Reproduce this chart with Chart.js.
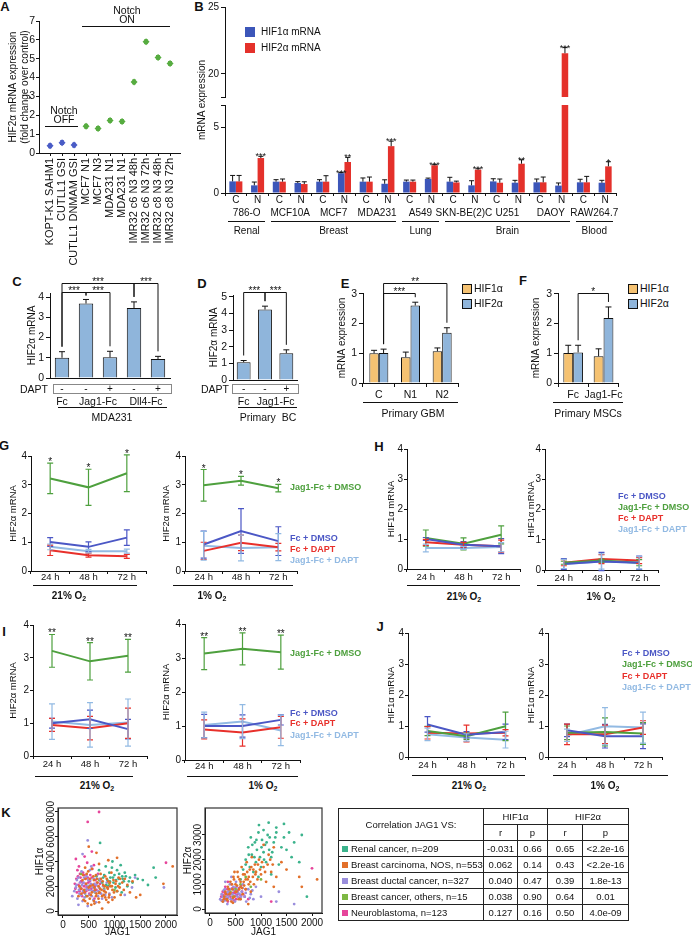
<!DOCTYPE html>
<html lang="en">
<head>
<meta charset="UTF-8" />
<title>Notch signalling induces HIF2α</title>
<script src="https://cdn.jsdelivr.net/npm/chart.js"></script>
<style>
  body { margin: 0; background: #fff; }
  #fig { position: relative; width: 692px; height: 938px; overflow: hidden; background: #fff;
         font-family: 'Liberation Sans', Arial, sans-serif; color: #111; }
  #fig canvas { position: absolute; }
  .t { position: absolute; white-space: nowrap; line-height: 1; }
  .t sub { font-size: 70%; vertical-align: -2px; line-height: 0; }
  .ln { position: absolute; height: 0; border-top: 1px solid #111; }
  .sq { position: absolute; }
  table.corr { position: absolute; left: 338px; top: 808px; width: 290px; border-collapse: collapse;
               font-size: 9.5px; border: 1.5px solid #222; table-layout: fixed; }
  table.corr td { border: 1px solid #222; padding: 0 2px; text-align: center; height: 15px; white-space: nowrap; }
  table.corr td.nm { text-align: left; padding-left: 3px; }
  table.corr .sw { display: inline-block; width: 6px; height: 6px; margin-right: 3px; }
</style>
</head>
<body>
<div id="fig"></div>
<script>
// ---------- data ----------
// A: HIF2α fold change
const aLabels = ['KOPT-K1 SAHM1', 'CUTLL1 GSI', 'CUTLL1 DNMAM GSI', 'MCF7 N1', 'MCF7 N3', 'MDA231 N1', 'MDA231 N1',
                 'IMR32 c6 N3 48h', 'IMR32 c6 N3 72h', 'IMR32 c8 N3 48h', 'IMR32 c8 N3 72h'];
const aValues = [0.38, 0.55, 0.42, 1.42, 1.3, 1.73, 1.67, 3.77, 5.9, 5.07, 4.75];
const aErr = [0.1, 0.1, 0.1, 0.1, 0.1, 0.1, 0.1, 0.1, 0.1, 0.1, 0.1];
const aNotchOn = [0, 0, 0, 1, 1, 1, 1, 1, 1, 1, 1];
const aTicks = [0, 1, 2, 3, 4, 5, 6, 7];

// B: HIF1α / HIF2α in C vs N per cell line
const bCells = ['786-O', 'MCF10A', 'MCF7', 'MDA231', 'A549', 'SKN-BE(2)C', 'U251', 'DAOY', 'RAW264.7'];
const bConds = ['C', 'N'];
const bHif1 = [0.88, 0.58, 0.86, 0.76, 0.86, 1.5, 0.86, 0.7, 0.86, 1.06, 0.86, 0.58, 0.88, 0.78, 0.81, 0.56, 0.81, 0.78];
const bHif1Err = [0.45, 0.25, 0.15, 0.1, 0.15, 0.05, 0.28, 0.3, 0.12, 0.07, 0.33, 0.35, 0.2, 0.18, 0.25, 0.2, 0.23, 0.18];
const bHif2 = [0.88, 2.65, 0.86, 0.68, 0.86, 2.35, 0.86, 3.55, 0.86, 2.1, 0.8, 1.77, 0.78, 2.22, 0.81, 21.55, 0.81, 2.02];
const bHif2Err = [0.45, 0.13, 0.2, 0.17, 0.45, 0.35, 0.35, 0.38, 0.12, 0.05, 0.1, 0.07, 0.28, 0.3, 0.4, 0.42, 0.45, 0.35];
const bHif1Sig = ['', '', '', '', '', '***', '', '', '', '', '', '', '', '', '', '', '', ''];
const bHif2Sig = ['', '***', '', '', '', '**', '', '***', '', '***', '', '***', '', '**', '', '***', '', '*'];
const bTissues = [['Renal', 0, 1], ['Breast', 2, 7], ['Lung', 8, 9], ['Brain', 10, 15], ['Blood', 16, 17]];
const bTicksUp = [18.28, 20, 25];
const bTicksLow = [0, 5, 6.67];

// C: MDA231 ligands ± DAPT
const cLigand = ['Fc', 'Jag1-Fc', 'Jag1-Fc', 'Dll4-Fc', 'Dll4-Fc'];
const cDapt = ['-', '-', '+', '-', '+'];
const cValues = [1.0, 3.68, 1.02, 3.46, 0.94];
const cErr = [0.3, 0.2, 0.3, 0.3, 0.13];
const cTicks = [0, 1, 2, 3, 4];
const cBrackets = [[0, 3, 4.69, '***'], [0, 1, 4.25, '***'], [1, 2, 4.25, '***'], [3, 4, 4.69, '***']];

// D: primary BC
const dLigand = ['Fc', 'Jag1-Fc', 'Jag1-Fc'];
const dDapt = ['-', '-', '+'];
const dValues = [1.07, 4.23, 1.61];
const dErr = [0.1, 0.2, 0.2];
const dTicks = [0, 1, 2, 3, 4, 5];
const dBrackets = [[0, 1, 5.3, '***'], [1, 2, 5.3, '***']];

// E: primary GBM
const eGroups = ['C', 'N1', 'N2'];
const eHif1 = [1.0, 0.87, 1.07];
const eHif1Err = [0.1, 0.17, 0.11];
const eHif2 = [1.01, 2.61, 1.69];
const eHif2Err = [0.13, 0.11, 0.17];
const eBrackets = [[0, 1, 3.03, '***'], [0, 2, 3.37, '**']];

// F: primary MSCs
const fGroups = ['Fc', 'Jag1-Fc'];
const fHif1 = [1.01, 0.9];
const fHif1Err = [0.26, 0.25];
const fHif2 = [1.03, 2.19];
const fHif2Err = [0.24, 0.37];
const fBrackets = [[0, 1, 3.03, '*']];
const efTicks = [0, 1, 2, 3];

// G-J time courses, series order: Fc+DMSO, Jag1-Fc+DMSO, Fc+DAPT, Jag1-Fc+DAPT
const timeLabels = ['24 h', '48 h', '72 h'];
const seriesNames = ['Fc + DMSO', 'Jag1-Fc + DMSO', 'Fc + DAPT', 'Jag1-Fc + DAPT'];
const lineTicks = [0, 1, 2, 3, 4];
const g21Mean = [[1.01, 0.84, 1.16], [3.22, 2.91, 3.4], [0.72, 0.55, 0.51], [0.84, 0.69, 0.69]];
const g21Err = [[0.15, 0.17, 0.27], [0.53, 0.63, 0.64], [0.18, 0.07, 0.07], [0.1, 0.06, 0.07]];
const g1Mean = [[0.92, 1.39, 1.04], [2.98, 3.14, 2.88], [0.7, 0.98, 0.83], [0.88, 0.8, 0.83]];
const g1Err = [[0.47, 0.78, 0.5], [0.55, 0.15, 0.13], [0.3, 0.27, 0.13], [0.5, 0.45, 0.47]];
const h21Mean = [[1.0, 0.81, 0.76], [1.03, 0.84, 1.14], [0.89, 0.81, 0.76], [0.7, 0.7, 0.73]];
const h21Err = [[0.05, 0.1, 0.25], [0.27, 0.2, 0.3], [0.1, 0.08, 0.2], [0.13, 0.05, 0.15]];
const h1Mean = [[0.2, 0.28, 0.24], [0.24, 0.31, 0.24], [0.24, 0.36, 0.31], [0.2, 0.28, 0.24]];
const h1Err = [[0.18, 0.3, 0.22], [0.05, 0.05, 0.1], [0.1, 0.15, 0.1], [0.15, 0.25, 0.2]];
const i21Mean = [[1.0, 1.12, 0.82], [3.21, 2.89, 3.06], [0.95, 0.85, 1.0], [1.05, 0.95, 1.02]];
const i21Err = [[0.15, 0.28, 0.3], [0.5, 0.57, 0.5], [0.2, 0.36, 0.46], [0.54, 0.68, 0.72]];
const i1Mean = [[1.0, 1.0, 1.18], [3.13, 3.27, 3.17], [0.9, 0.81, 0.96], [1.03, 1.13, 0.87]];
const i1Err = [[0.34, 0.33, 0.15], [0.47, 0.47, 0.5], [0.28, 0.4, 0.32], [0.38, 0.5, 0.45]];
const j21Mean = [[1.05, 0.72, 0.81], [0.84, 0.67, 0.99], [0.78, 0.76, 0.78], [0.73, 0.63, 0.56]];
const j21Err = [[0.25, 0.1, 0.25], [0.15, 0.1, 0.46], [0.2, 0.27, 0.1], [0.2, 0.12, 0.27]];
const j1Mean = [[0.86, 0.67, 0.67], [0.78, 0.81, 0.76], [0.73, 0.73, 0.95], [0.7, 0.99, 0.95]];
const j1Err = [[0.2, 0.38, 0.4], [0.22, 0.45, 0.35], [0.33, 0.3, 0.22], [0.2, 0.6, 0.5]];
const gSig = ['*', '*', '*'];
const iSig = ['**', '**', '**'];

const kGroups = ['Renal cancer, n=209', 'Breast carcinoma, NOS, n=553', 'Breast ductal cancer, n=327',
                 'Breast cancer, others, n=15', 'Neuroblastoma, n=123'];
const kR1 = ['-0.031', '0.062', '0.040', '0.038', '0.127'];
const kP1 = ['0.66', '0.14', '0.47', '0.90', '0.16'];
const kR2 = ['0.65', '0.43', '0.39', '0.64', '0.50'];
const kP2 = ['<2.2e-16', '<2.2e-16', '1.8e-13', '0.01', '4.0e-09'];
const kXTicks = [0, 500, 1000, 1500, 2000];
const k1YTicks = [0, 2000, 4000, 6000, 8000];
const k2YTicks = [0, 1000, 2000, 3000];

const k1Renal = [[650,2800],[700,3300],[720,5500],[760,2300],[800,2900],[830,3600],[860,2500],[880,2000],[900,3100],[920,2700],[950,3500],[980,2300],[1000,2900],[1020,1900],[1050,3300],[1080,2600],[1100,2200],[1120,3700],[1150,2800],[1180,2400],[1200,3100],[1250,2000],[1300,2700],[1350,2300],[1450,2600],[1550,2500],[1650,2100],[1760,3500],[1800,2700],[1050,1600],[960,4000],[1140,1500],[780,2700],[840,2100],[910,2400],[970,2700],[1030,2500],[1090,3000],[1160,2600],[1220,2800],[1280,2400],[1400,2900]];
const k1Carcinoma = [[300,1200],[350,1800],[380,2500],[400,900],[420,1500],[450,2200],[460,3000],[480,600],[500,1900],[520,2600],[540,1300],[560,3400],[580,2100],[600,800],[620,1700],[640,2900],[650,1400],[670,2300],[690,1000],[700,3800],[720,1800],[740,2600],[760,1200],[780,2100],[800,1600],[820,2800],[840,900],[860,1900],[880,2400],[900,1300],[920,2000],[940,3100],[960,1700],[980,2500],[1000,1100],[1020,2200],[1050,1600],[1080,2700],[1100,1900],[1120,1300],[1150,2300],[1180,1700],[1200,2600],[1250,2100],[1300,1500],[1350,2400],[1420,1100],[1500,1300],[1950,2200],[2130,3600],[1050,4300],[880,4100],[650,4700],[500,5200],[760,200],[550,500],[430,3500],[700,1450],[820,1100],[600,2500],
  [320,2000],[360,1400],[390,2900],[410,1700],[440,2600],[470,1200],[490,3200],[530,2000],[560,1500],[590,2800],[610,1900],[640,1200],[660,2600],[690,2000],[710,1500],[730,3000],[750,1700],[770,2400],[790,1300],[810,2000],[830,1500],[850,2600],[870,1800],[890,1100],[910,2300],[950,2000],[990,1500],[1030,2400],[1070,2000],[1110,2600],[430,800],[520,1000],[610,600],[700,700],[880,700],[960,900]];
const k1Ductal = [[180,1200],[220,1600],[260,2100],[280,1000],[300,2700],[320,1400],[340,1900],[360,3200],[380,800],[400,2300],[420,1100],[440,1700],[460,2800],[480,400],[500,2000],[510,1300],[530,2500],[550,3600],[570,1600],[590,900],[610,2200],[630,1500],[660,2900],[680,1200],[700,1900],[730,2400],[760,1000],[800,1700],[850,2300],[900,1400],[950,1100],[1200,1300],[1340,1900],[1400,2700],[1960,1900],[480,5700],[380,4600],[520,3300],[640,700],[300,500],
  [250,1900],[270,2500],[310,1700],[330,2300],[350,1300],[370,2100],[390,1600],[410,2700],[430,1400],[450,2100],[470,1800],[490,2500],[520,1700],[540,2200],[560,1200],[580,1900],[600,2600],[620,1800],[650,2100],[690,1600],[710,2600],[740,1400],[780,2000],[820,1300],[870,1900]];
const k1Others = [[500,2000],[620,1500],[700,2500],[800,1800],[450,1200],[900,2200],[350,3000],[1000,1700]];
const k1Neuro = [[230,2200],[250,4200],[270,1500],[290,2800],[310,3600],[330,1900],[350,2400],[370,1200],[390,3100],[410,2000],[430,2600],[450,1600],[470,3900],[490,2300],[510,1400],[530,2900],[550,1800],[570,3400],[590,2100],[610,1000],[630,2500],[650,1700],[680,3000],[720,2200],[480,7200],[700,8000],[560,4800],[420,4400],[330,3000],[600,3700],[2000,3900],
  [240,1800],[260,2600],[280,3300],[300,2100],[320,1600],[340,2700],[360,1800],[380,2300],[400,1500],[420,2900],[440,2200],[460,1900],[480,2700],[500,1700],[520,2400],[540,2100],[560,2700],[580,1600],[620,2000],[660,2300]];

const k2Renal = [[650,1600],[700,2000],[750,2500],[780,1700],[800,2900],[820,2200],[850,1500],[880,2700],[900,1900],[920,2400],[950,3100],[980,2100],[1000,1700],[1020,2800],[1050,2300],[1080,2600],[1100,1900],[1130,3000],[1160,2400],[1200,2100],[1250,2700],[1300,3100],[1350,1800],[1450,2900],[1500,2400],[1550,3100],[1600,2100],[1800,3000],[1750,1900],[1900,500],[600,1200],[950,1300],[1200,1400],[960,3400],[1150,3500],[1300,3300],[1450,3450],
  [700,1800],[760,2200],[830,2600],[870,2100],[910,2800],[1010,2500],[1060,2000],[1110,2700],[1170,2900],[1220,2300],[1280,2900],[1400,2500],[1650,2700],[1050,3200]];
const k2Carcinoma = [[250,300],[280,500],[300,700],[330,400],[350,900],[380,600],[400,1100],[420,300],[440,800],[460,1300],[480,500],[500,1000],[520,700],[540,1500],[560,400],[580,1200],[600,900],[620,1700],[640,600],[660,1100],[680,1400],[700,800],[720,1900],[740,1200],[760,1000],[780,1600],[800,700],[820,2100],[840,1300],[860,1000],[880,1800],[900,1500],[930,1200],[960,2000],[1000,1400],[1050,1700],[1100,1100],[1150,2200],[1200,1500],[1250,900],[1300,1300],[1400,1900],[1500,1600],[1750,1300],[1800,900],[2100,1200],[1250,2500],[1050,2600],[750,200],[480,1500],
  [270,400],[310,600],[340,350],[370,800],[400,650],[430,1000],[450,450],[470,1200],[500,700],[530,950],[550,1300],[570,800],[600,1100],[630,850],[650,1400],[670,950],[700,1200],[730,1500],[760,1300],[790,1100],[810,1700],[850,1600],[890,1400],[940,1800],[980,1600],[1020,1900],[1080,1500],[1130,1800],[1180,2000],[1230,1800],[450,250],[600,400]];
const k2Ductal = [[200,400],[230,600],[260,300],[290,800],[310,500],[340,200],[360,700],[390,1000],[410,400],[440,600],[460,900],[490,300],[510,1100],[540,500],[560,800],[590,400],[620,700],[650,1000],[680,500],[710,300],[750,800],[800,600],[850,400],[900,900],[1000,500],[1300,300],[1350,700],[1650,200],[420,1300],[300,1100],
  [220,350],[250,500],[270,750],[300,350],[320,650],[350,450],[370,550],[400,800],[420,600],[450,400],[470,750],[500,550],[520,900],[550,650],[580,600],[610,500],[640,850],[700,650],[780,450],[830,750]];
const k2Others = [[500,800],[600,1000],[700,1300],[800,900],[450,500],[900,1500],[400,700],[1000,1200]];
const k2Neuro = [[220,500],[250,700],[280,400],[300,900],[330,600],[350,300],[380,800],[400,500],[420,1000],[450,650],[470,350],[500,850],[520,550],[550,750],[580,450],[610,950],[650,600],[700,800],[750,400],[2000,1650],[1200,300],[350,1100],
  [230,350],[260,550],[290,650],[310,400],[340,800],[360,550],[390,650],[410,400],[440,850],[460,500],[490,650],[510,400],[540,600],[570,850],[600,550],[630,700],[680,500]];

// ---------- styles ----------
const INK = '#111';
const FONT = "'Liberation Sans', Arial, sans-serif";
const A_BLUE = '#4A5CC6', A_GREEN = '#57AC40';
const B_BLUE = '#3C56B9', B_RED = '#E4312B';
const BAR_BLUE = '#8FB5DB', BAR_ORANGE = '#F5C272';
const LINE_COLORS = ['#4B57C5', '#4EA03E', '#E8302B', '#92BAE3'];
const K_COLORS = ['#3BB38C', '#E2702A', '#9A8EDD', '#7DB843', '#E6459B'];

Chart.defaults.font.family = FONT;
Chart.defaults.font.size = 10;
Chart.defaults.color = INK;
Chart.defaults.animation = false;
Chart.defaults.events = [];
Chart.defaults.plugins.legend.display = false;
Chart.defaults.plugins.tooltip.enabled = false;

const fig = document.getElementById('fig');

// ---------- helpers ----------
function txt(s, x, y, o = {}) {
  const d = document.createElement('div');
  d.className = 't';
  d.innerHTML = s;
  d.style.left = x + 'px';
  d.style.top = y + 'px';
  d.style.fontSize = (o.size || 10) + 'px';
  if (o.bold) d.style.fontWeight = 'bold';
  if (o.color) d.style.color = o.color;
  const tx = o.align === 'left' ? '0' : o.align === 'right' ? '-100%' : '-50%';
  d.style.transform = `translate(${tx},-50%)` + (o.rot ? ` rotate(${o.rot}deg)` : '');
  fig.appendChild(d);
}
function hline(x1, x2, y) {
  const d = document.createElement('div');
  d.className = 'ln';
  d.style.left = x1 + 'px'; d.style.top = y + 'px'; d.style.width = (x2 - x1) + 'px';
  fig.appendChild(d);
}
function square(x, y, w, color, border) {
  const d = document.createElement('div');
  d.className = 'sq';
  d.style.left = x + 'px'; d.style.top = y + 'px';
  d.style.width = w + 'px'; d.style.height = w + 'px';
  d.style.background = color;
  if (border) d.style.border = '1px solid ' + INK;
  fig.appendChild(d);
}

// box: chart area x1..x2, y1..y2 (page px), yw = y-axis width, pt/pr/pb padding, xh = x-axis height
function mk(box, config) {
  const c = document.createElement('canvas');
  const L = box.x1 - box.yw, T = box.y1 - box.pt;
  c.width = box.yw + (box.x2 - box.x1) + (box.pr || 0);
  c.height = box.pt + (box.y2 - box.y1) + box.xh + (box.pb || 0);
  c.style.left = L + 'px';
  c.style.top = T + 'px';
  fig.appendChild(c);
  config.options.responsive = false;
  config.options.layout = { padding: { top: box.pt, right: box.pr || 0, bottom: box.pb || 0, left: 0 } };
  config.options.scales.y.afterFit = a => { a.width = box.yw; };
  config.options.scales.x.afterFit = a => { a.height = box.xh; };
  const ch = new Chart(c, config);
  ch.L = L; ch.T = T;
  return ch;
}
const barX = (ch, ds, i) => ch.L + ch.getDatasetMeta(ds).data[i].x;
const catX = (ch, i) => ch.L + ch.scales.x.getPixelForValue(i);

function yLin(min, max, ticks, o = {}) {
  return {
    type: 'linear', min, max,
    afterBuildTicks: a => { a.ticks = ticks.map(v => ({ value: v })); },
    ticks: { display: o.tickLabels !== false, padding: o.tp ?? 2, font: { size: o.fs || 10 }, color: INK,
             callback: o.cb || (v => v) },
    grid: { display: true, drawOnChartArea: false, tickLength: o.tl ?? 4, color: INK },
    border: { display: true, color: INK, width: 1 },
    title: { display: !!o.title, text: o.title || '', color: INK,
             padding: { top: o.titlePad || 0, bottom: 0 }, font: { size: o.tfs || 10 } }
  };
}
function xCat(o = {}) {
  return {
    type: 'category', offset: true,
    ticks: { display: o.labels !== false, padding: o.pad ?? 0, font: { size: o.fs || 10 }, color: INK,
             autoSkip: false, maxRotation: 0, minRotation: 0 },
    grid: { display: o.grid !== false, drawOnChartArea: false, offset: true, tickLength: o.tl ?? 3, color: INK },
    border: { display: true, color: INK, width: 1 }
  };
}
function xLin(min, max, ticks, o = {}) {
  return {
    type: 'linear', min, max,
    afterBuildTicks: a => { a.ticks = ticks.map(v => ({ value: v })); },
    ticks: { padding: o.pad ?? 1, font: { size: o.fs || 10 }, color: INK, autoSkip: false,
             minRotation: o.rot || 0, maxRotation: o.rot || 0, callback: o.cb || (v => v) },
    grid: { display: true, drawOnChartArea: false, tickLength: o.tl ?? 3, color: INK },
    border: { display: true, color: INK, width: 1 },
    title: { display: !!o.title, text: o.title || '', color: INK, padding: { top: 0, bottom: 0 }, font: { size: o.tfs || 10 } }
  };
}

// ---------- plugins ----------
const errBars = {
  id: 'errBars',
  afterDatasetsDraw(chart, args, opts) {
    const { ctx, chartArea: ca } = chart;
    const ys = chart.scales.y;
    ctx.save();
    if (opts.clip) {
      ctx.beginPath();
      ctx.rect(ca.left, ca.top, ca.right - ca.left, ca.bottom - ca.top);
      ctx.clip();
    }
    chart.data.datasets.forEach((ds, di) => {
      if (!ds.err) return;
      chart.getDatasetMeta(di).data.forEach((el, j) => {
        const d = ds.data[j];
        const v = typeof d === 'object' ? d.y : d;
        const e = ds.err[j];
        const x = el.x;
        const top = ys.getPixelForValue(v + e);
        const bot = ys.getPixelForValue(ds.errUp ? v : v - e);
        const cap = ds.cap ?? 3;
        ctx.strokeStyle = ds.errColor || INK;
        ctx.lineWidth = ds.errWidth || 1;
        ctx.beginPath();
        ctx.moveTo(x, bot); ctx.lineTo(x, top);
        ctx.moveTo(x - cap, top); ctx.lineTo(x + cap, top);
        if (!ds.errUp) { ctx.moveTo(x - cap, bot); ctx.lineTo(x + cap, bot); }
        ctx.stroke();
        if (ds.sig && ds.sig[j]) {
          ctx.fillStyle = INK;
          ctx.font = `${opts.starSize || 10}px ${FONT}`;
          ctx.textAlign = 'center';
          ctx.textBaseline = 'alphabetic';
          ctx.fillText(ds.sig[j], x, top + (opts.starDy ?? 3));
        }
      });
    });
    ctx.restore();
  }
};

const brackets = {
  id: 'brackets',
  afterDraw(chart, args, opts) {
    if (!opts.list) return;
    const { ctx } = chart;
    const ys = chart.scales.y;
    const di = opts.ds || 0;
    const meta = chart.getDatasetMeta(di);
    const ds = chart.data.datasets[di];
    ctx.save();
    ctx.strokeStyle = INK; ctx.fillStyle = INK; ctx.lineWidth = 1;
    ctx.font = `10px ${FONT}`; ctx.textAlign = 'center'; ctx.textBaseline = 'alphabetic';
    opts.list.forEach(([a, b, yv, label]) => {
      const xa = meta.data[a].x, xb = meta.data[b].x;
      const y = Math.round(ys.getPixelForValue(yv)) + 0.5;
      const leg = i => Math.max(y + 3, ys.getPixelForValue(ds.data[i] + ds.err[i]) - 5);
      ctx.beginPath();
      ctx.moveTo(xa, leg(a)); ctx.lineTo(xa, y); ctx.lineTo(xb, y); ctx.lineTo(xb, leg(b));
      ctx.stroke();
      ctx.fillText(label, (xa + xb) / 2, y + 1);
    });
    ctx.restore();
  }
};

const rBox = {
  id: 'rBox',
  afterDraw(chart, args, opts) {
    if (!opts.on) return;
    const { ctx, chartArea: ca } = chart;
    const ys = chart.scales.y;
    ctx.save();
    ctx.strokeStyle = '#333'; ctx.lineWidth = 1.2;
    ctx.strokeRect(ca.left, ca.top, ca.right - ca.left, ca.bottom - ca.top);
    ctx.fillStyle = INK; ctx.font = `10px ${FONT}`;
    ctx.textAlign = 'center'; ctx.textBaseline = 'middle';
    ys.ticks.forEach(t => {
      ctx.save();
      ctx.translate(ca.left - opts.dx, ys.getPixelForValue(t.value));
      ctx.rotate(-Math.PI / 2);
      ctx.fillText(String(t.value), 0, 0);
      ctx.restore();
    });
    ctx.restore();
  }
};
Chart.register(errBars, brackets, rBox);

// ---------- panel letters ----------
[['A', 5, 6], ['B', 199, 6], ['C', 17, 281], ['D', 202, 283], ['E', 345, 283], ['F', 523, 280],
 ['G', 4, 445], ['H', 379, 446], ['I', 4, 631], ['J', 380, 626], ['K', 6, 812]]
  .forEach(([s, x, y]) => txt(s, x, y, { size: 13, bold: true }));

// ---------- A ----------
const aPts = aValues.map((v, i) => ({ x: i, y: v }));
mk({ x1: 39, x2: 180, y1: 21, y2: 153, yw: 39, pt: 21, pr: 10, xh: 116 }, {
  type: 'scatter',
  data: { datasets: [
    { data: aPts.filter((_, i) => !aNotchOn[i]), err: aErr.filter((_, i) => !aNotchOn[i]),
      backgroundColor: A_BLUE, borderWidth: 0, pointStyle: 'rectRot', pointRadius: 3.5, errColor: A_BLUE, cap: 2 },
    { data: aPts.filter((_, i) => aNotchOn[i]), err: aErr.filter((_, i) => aNotchOn[i]),
      backgroundColor: A_GREEN, borderWidth: 0, pointStyle: 'rectRot', pointRadius: 3.5, errColor: A_GREEN, cap: 2 }
  ] },
  options: { scales: {
    x: xLin(-0.92, 10.83, aValues.map((_, i) => i), { rot: 90, pad: 2, fs: 11, cb: v => aLabels[v] }),
    y: yLin(0, 7, aTicks, { title: ['HIF2α mRNA expression', '(fold change over control)'], titlePad: 7, fs: 10.5, tl: 3, tp: 1 })
  } }
});
txt('Notch', 64, 110, { size: 10.5 });
txt('OFF', 64, 119, { size: 10.5 });
hline(45, 78, 126);
txt('Notch', 127, 10, { size: 10.5 });
txt('ON', 127, 19, { size: 10.5 });
hline(82, 170, 26);

// ---------- B ----------
const bLabels = bCells.flatMap(() => bConds);
function bConfig(yScale, showX) {
  const x = xCat({ labels: showX, grid: showX, tl: 3, pad: -2 });
  if (!showX) x.display = false;
  return {
    type: 'bar',
    data: { labels: bLabels, datasets: [
      { data: bHif1, err: bHif1Err, sig: bHif1Sig, errUp: true, cap: 2.5, backgroundColor: B_BLUE, clip: 0,
        categoryPercentage: 0.6, barPercentage: 1 },
      { data: bHif2, err: bHif2Err, sig: bHif2Sig, errUp: true, cap: 2.5, backgroundColor: B_RED, clip: 0,
        categoryPercentage: 0.6, barPercentage: 1 }
    ] },
    options: { scales: { x, y: yScale }, plugins: { errBars: { clip: true, starSize: 9, starDy: 3 } } }
  };
}
const breakCb = v => (v === 0 || v === 5 || v === 20 || v === 25) ? v : '';
mk({ x1: 225, x2: 616, y1: 7, y2: 97, yw: 30, pt: 9, pr: 8, xh: 0, pb: 10 },
   bConfig(yLin(18.28, 25, bTicksUp, { cb: breakCb, tl: 4 }), false));
const bLow = mk({ x1: 225, x2: 616, y1: 105, y2: 193, yw: 30, pt: 9, pr: 8, xh: 22 },
   bConfig(yLin(0, 6.67, bTicksLow, { cb: breakCb, tl: 4 }), true));
txt('mRNA expression', 202, 100, { rot: -90 });
square(245, 27, 10, B_BLUE);
square(245, 43, 10, B_RED);
txt('HIF1α mRNA', 261, 32, { align: 'left' });
txt('HIF2α mRNA', 261, 48, { align: 'left' });
const bCw = catX(bLow, 1) - catX(bLow, 0);
bCells.forEach((name, k) => txt(name, (catX(bLow, 2 * k) + catX(bLow, 2 * k + 1)) / 2, 213));
bTissues.forEach(([name, i0, i1]) => {
  const xa = catX(bLow, i0) - bCw / 2 + 3, xb = catX(bLow, i1) + bCw / 2 - 3;
  hline(xa, xb, 221);
  txt(name, (xa + xb) / 2, 231);
});

// ---------- C ----------
const cChart = mk({ x1: 50, x2: 170, y1: 293, y2: 378, yw: 50, pt: 28, pr: 2, xh: 10 }, {
  type: 'bar',
  data: { labels: cLigand, datasets: [{ data: cValues, err: cErr, errUp: true, cap: 3, backgroundColor: BAR_BLUE,
    borderColor: INK, borderWidth: 1, barPercentage: 0.6, categoryPercentage: 1 }] },
  options: { scales: { x: xCat({ labels: false, grid: false }),
                       y: yLin(0, 4.2, cTicks, { title: 'HIF2α mRNA', titlePad: 26, fs: 10.5 }) },
             plugins: { brackets: { list: cBrackets } } }
});
function daptRow(ch, dapt, boxX1, boxX2, labelX) {
  const d = document.createElement('div');
  d.style.cssText = `position:absolute;left:${boxX1}px;top:384px;width:${boxX2 - boxX1}px;height:8px;border:1px solid #888;`;
  fig.appendChild(d);
  txt('DAPT', labelX, 389, { align: 'right', size: 10.5 });
  dapt.forEach((s, i) => txt(s, barX(ch, 0, i), 389, { size: 10 }));
}
daptRow(cChart, cDapt, 53, 170, 48);
txt(cLigand[0], barX(cChart, 0, 0), 401, { size: 10.5 });
txt(cLigand[1], (barX(cChart, 0, 1) + barX(cChart, 0, 2)) / 2, 401, { size: 10.5 });
txt(cLigand[3], (barX(cChart, 0, 3) + barX(cChart, 0, 4)) / 2, 401, { size: 10.5 });
hline(58, 167, 407);
txt('MDA231', 112, 417, { size: 10.5 });

// ---------- D ----------
const dChart = mk({ x1: 233, x2: 297, y1: 295, y2: 380, yw: 38, pt: 30, pr: 2, xh: 10 }, {
  type: 'bar',
  data: { labels: dLigand, datasets: [{ data: dValues, err: dErr, errUp: true, cap: 3, backgroundColor: BAR_BLUE,
    borderColor: INK, borderWidth: 1, barPercentage: 0.65, categoryPercentage: 1 }] },
  options: { scales: { x: xCat({ labels: false, grid: false }),
                       y: yLin(0, 5.1, dTicks, { title: 'HIF2α mRNA', titlePad: 13, fs: 10.5 }) },
             plugins: { brackets: { list: dBrackets } } }
});
daptRow(dChart, dDapt, 232, 297, 229);
txt(dLigand[0], barX(dChart, 0, 0), 401, { size: 10.5 });
txt(dLigand[1], (barX(dChart, 0, 1) + barX(dChart, 0, 2)) / 2, 401, { size: 10.5 });
hline(238, 297, 407);
txt('Primary&nbsp;&nbsp;BC', 268, 417, { size: 10.5 });

// ---------- E / F ----------
function hifPair(box, labels, h1, h1e, h2, h2e, list, titlePad) {
  return mk(box, {
    type: 'bar',
    data: { labels, datasets: [
      { data: h1, err: h1e, errUp: true, cap: 3, backgroundColor: BAR_ORANGE, borderColor: INK, borderWidth: 1,
        categoryPercentage: box.cp, barPercentage: 1 },
      { data: h2, err: h2e, errUp: true, cap: 3, backgroundColor: BAR_BLUE, borderColor: INK, borderWidth: 1,
        categoryPercentage: box.cp, barPercentage: 1 }
    ] },
    options: { scales: { x: xCat({ pad: 2, tl: 4, fs: 10.5 }),
                         y: yLin(0, 3.03, efTicks, { title: 'mRNA expression', titlePad, fs: 10.5 }) },
               plugins: { brackets: { ds: 1, list } } }
  });
}
hifPair({ x1: 363, x2: 458, y1: 293, y2: 383, yw: 28, pt: 22, pr: 2, xh: 18, cp: 0.6 },
        eGroups, eHif1, eHif1Err, eHif2, eHif2Err, eBrackets, 1);
hline(363, 458, 402);
txt('Primary GBM', 413, 413, { size: 10.5 });
hifPair({ x1: 558, x2: 623, y1: 293, y2: 383, yw: 28, pt: 22, pr: 2, xh: 18, cp: 0.65 },
        fGroups, fHif1, fHif1Err, fHif2, fHif2Err, fBrackets, 0);
hline(553, 623, 402);
txt('Primary MSCs', 588, 413, { size: 10.5 });
[[462, 474], [628, 640]].forEach(([sx, tx]) => {
  square(sx, 284, 8, BAR_ORANGE, true);
  square(sx, 299, 8, BAR_BLUE, true);
  txt('HIF1α', tx, 288, { align: 'left', size: 10.5 });
  txt('HIF2α', tx, 303, { align: 'left', size: 10.5 });
});

// ---------- G-J ----------
function timeChart(box, means, errs, title, titlePad, sig, pad) {
  const datasets = means.map((m, k) => ({
    data: m, err: errs[k], sig: k === 1 ? sig : null,
    borderColor: LINE_COLORS[k], backgroundColor: LINE_COLORS[k], errColor: LINE_COLORS[k],
    borderWidth: 2, pointRadius: 0, errWidth: 1.2, cap: 3, tension: 0
  }));
  return mk(box, {
    type: 'line',
    data: { labels: timeLabels, datasets },
    options: { scales: { x: xCat({ fs: 9.5, tl: 3, pad }),
                         y: yLin(0, 4, lineTicks, { title, titlePad, tfs: 9.5, tl: 3, tp: 1 }) },
               plugins: { errBars: { starSize: 10, starDy: 2 } } }
  });
}
timeChart({ x1: 31, x2: 146, y1: 456, y2: 571, yw: 31, pt: 16, pr: 4, xh: 14 }, g21Mean, g21Err, 'HIF2α mRNA', 8, gSig, -2);
timeChart({ x1: 185, x2: 297, y1: 456, y2: 571, yw: 30, pt: 16, pr: 4, xh: 14 }, g1Mean, g1Err, 'HIF2α mRNA', 6, gSig, -2);
timeChart({ x1: 407, x2: 520, y1: 449, y2: 569, yw: 28, pt: 12, pr: 4, xh: 14 }, h21Mean, h21Err, 'HIF1α mRNA', 7, null, 0);
timeChart({ x1: 545, x2: 658, y1: 449, y2: 570, yw: 28, pt: 12, pr: 4, xh: 14 }, h1Mean, h1Err, 'HIF1α mRNA', 9, null, 0);
timeChart({ x1: 33, x2: 147, y1: 625, y2: 756, yw: 33, pt: 14, pr: 4, xh: 14 }, i21Mean, i21Err, 'HIF2α mRNA', 8, iSig, 0);
timeChart({ x1: 185, x2: 300, y1: 624, y2: 760, yw: 30, pt: 14, pr: 4, xh: 14 }, i1Mean, i1Err, 'HIF2α mRNA', 6, iSig, -2);
timeChart({ x1: 408, x2: 525, y1: 633, y2: 757, yw: 28, pt: 12, pr: 4, xh: 14 }, j21Mean, j21Err, 'HIF1α mRNA', 6, null, 0);
timeChart({ x1: 548, x2: 662, y1: 633, y2: 757, yw: 28, pt: 12, pr: 4, xh: 14 }, j1Mean, j1Err, 'HIF1α mRNA', 6, null, 0);

[[33, 137, 585, 69, 596, '21'], [173, 293, 585, 212, 596, '1'], [407, 520, 585, 464, 597, '21'], [537, 660, 585, 601, 597, '1'],
 [35, 133, 776, 97, 786, '21'], [187, 298, 776, 263, 786, '1'], [412, 525, 775, 469, 786, '21'], [553, 668, 775, 605, 786, '1']]
  .forEach(([xa, xb, yl, xt, yt, pct]) => {
    hline(xa, xb, yl);
    txt(`${pct}% O<sub>2</sub>`, xt, yt, { bold: true, size: 10 });
  });

function seriesLabels(x, ys, order) {
  order.forEach((k, n) => txt(seriesNames[k], x, ys[n], { align: 'left', bold: true, size: 9, color: LINE_COLORS[k] }));
}
seriesLabels(290, [487, 538, 549, 560], [1, 0, 2, 3]);
seriesLabels(618, [496, 507, 518, 529], [0, 1, 2, 3]);
seriesLabels(290, [653, 713, 723, 735], [1, 0, 2, 3]);
seriesLabels(622, [653, 664, 676, 687], [0, 1, 2, 3]);

// ---------- K ----------
function scatterK(box, sets, xr, yr, yTicks, title, titlePad) {
  const order = [1, 2, 3, 0, 4];
  return mk(box, {
    type: 'scatter',
    data: { datasets: order.map(k => ({ data: sets[k], backgroundColor: K_COLORS[k], pointRadius: 1.4, borderWidth: 0 })) },
    options: { scales: {
      x: xLin(xr[0], xr[1], kXTicks, { title: 'JAG1', pad: 1, tl: 3 }),
      y: yLin(yr[0], yr[1], yTicks, { title, titlePad, tickLabels: false, tl: 3 })
    }, plugins: { rBox: { on: true, dx: 7 } } }
  });
}
scatterK({ x1: 58, x2: 177, y1: 808, y2: 915, yw: 33, pt: 8, pr: 6, xh: 23 },
         [k1Renal, k1Carcinoma, k1Ductal, k1Others, k1Neuro], [-97, 2214], [-323, 8323], k1YTicks, 'HIF1α', 9);
scatterK({ x1: 205, x2: 322, y1: 808, y2: 913, yw: 30, pt: 8, pr: 6, xh: 25 },
         [k2Renal, k2Carcinoma, k2Ductal, k2Others, k2Neuro], [-98, 2196], [-162, 4094], k2YTicks, 'HIF2α', 7);

const tbl = document.createElement('table');
tbl.className = 'corr';
let html = '<colgroup><col style="width:145px"><col style="width:34px"><col style="width:30px"><col style="width:35px"><col style="width:46px"></colgroup>';
html += '<tr style="height:15px"><td rowspan="2">Correlation JAG1 VS:</td><td colspan="2">HIF1α</td><td colspan="2">HIF2α</td></tr>';
html += '<tr style="height:14px"><td>r</td><td>p</td><td>r</td><td>p</td></tr>';
kGroups.forEach((g, i) => {
  html += `<tr style="height:15.5px"><td class="nm"><span class="sw" style="background:${K_COLORS[i]}"></span>${g}</td>` +
          `<td>${kR1[i]}</td><td>${kP1[i]}</td><td>${kR2[i]}</td><td>${kP2[i]}</td></tr>`;
});
tbl.innerHTML = html;
fig.appendChild(tbl);
</script>
</body>
</html>
